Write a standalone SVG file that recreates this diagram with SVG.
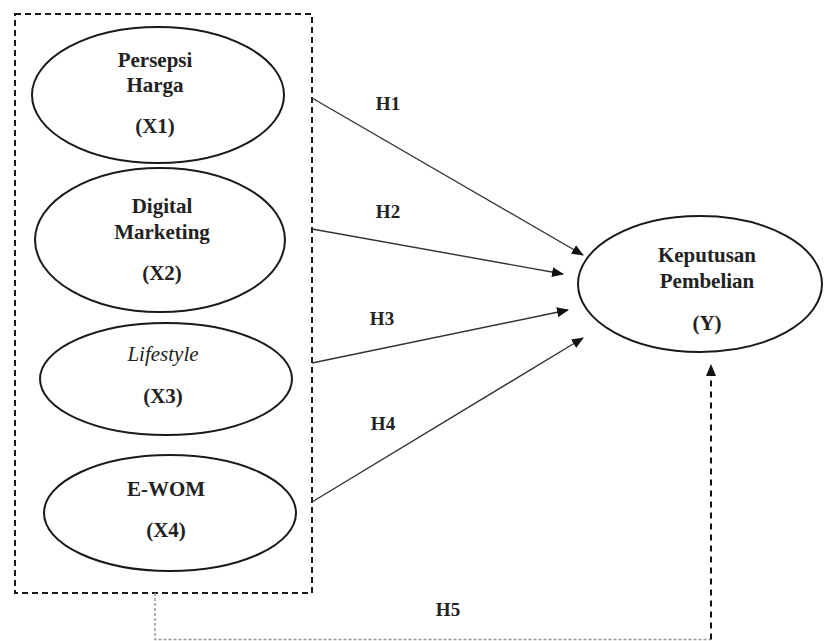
<svg xmlns="http://www.w3.org/2000/svg" width="825" height="641" viewBox="0 0 825 641">
<style>
.node ellipse{fill:#fff;stroke:#1a1a1a;stroke-width:2}
.t{font-family:"Liberation Serif","Times New Roman",serif;font-weight:bold;font-size:21px;fill:#222;text-anchor:middle}
.ti{font-family:"Liberation Serif","Times New Roman",serif;font-style:italic;font-size:21px;fill:#222;text-anchor:middle}
.h{font-family:"Liberation Serif","Times New Roman",serif;font-weight:bold;font-size:19px;fill:#222;text-anchor:middle}
.arr{stroke:#333;stroke-width:1.4;fill:none;marker-end:url(#ah)}
.box{fill:none;stroke:#1a1a1a;stroke-width:2;stroke-dasharray:6 4}
</style>
<defs>
<marker id="ah" markerWidth="12" markerHeight="10" refX="11" refY="5" orient="auto" markerUnits="userSpaceOnUse">
<path d="M0,0 L12,5 L0,10 Z" fill="#111"/>
</marker>
</defs>
<rect width="825" height="641" fill="#fff"/>
<rect id="group-box" class="box" x="15" y="14" width="297" height="579"/>
<g id="x1" class="node">
<ellipse cx="158" cy="95" rx="126" ry="68"/>
<text class="t" x="155" y="67">Persepsi</text>
<text class="t" x="155" y="92">Harga</text>
<text class="t" x="155" y="133">(X1)</text>
</g>
<g id="x2" class="node">
<ellipse cx="160" cy="240" rx="125" ry="72"/>
<text class="t" x="162" y="213">Digital</text>
<text class="t" x="162" y="239">Marketing</text>
<text class="t" x="162" y="280">(X2)</text>
</g>
<g id="x3" class="node">
<ellipse cx="166" cy="379" rx="126" ry="56"/>
<text class="ti" x="163" y="361">Lifestyle</text>
<text class="t" x="163" y="403">(X3)</text>
</g>
<g id="x4" class="node">
<ellipse cx="170" cy="513" rx="126" ry="58"/>
<text class="t" x="166" y="496">E-WOM</text>
<text class="t" x="166" y="537">(X4)</text>
</g>
<g id="y" class="node">
<ellipse cx="700" cy="284" rx="122" ry="68"/>
<text class="t" x="707" y="262">Keputusan</text>
<text class="t" x="707" y="288">Pembelian</text>
<text class="t" x="707" y="330">(Y)</text>
</g>
<g id="connectors">
<line class="arr" x1="312" y1="98" x2="583" y2="255"/>
<line class="arr" x1="312" y1="229" x2="563" y2="274"/>
<line class="arr" x1="312" y1="363" x2="568" y2="310"/>
<line class="arr" x1="312" y1="502" x2="583" y2="338"/>
<path d="M155,593 V639.5 H711" fill="none" stroke="#999" stroke-width="1.5" stroke-dasharray="3 2"/>
<path d="M711,639.5 V365" fill="none" stroke="#111" stroke-width="2" stroke-dasharray="6 5" marker-end="url(#ah)"/>
</g>
<g id="labels">
<text class="h" x="388" y="110">H1</text>
<text class="h" x="388" y="218">H2</text>
<text class="h" x="382" y="325">H3</text>
<text class="h" x="383" y="430">H4</text>
<text class="h" x="448" y="616">H5</text>
</g>
</svg>
